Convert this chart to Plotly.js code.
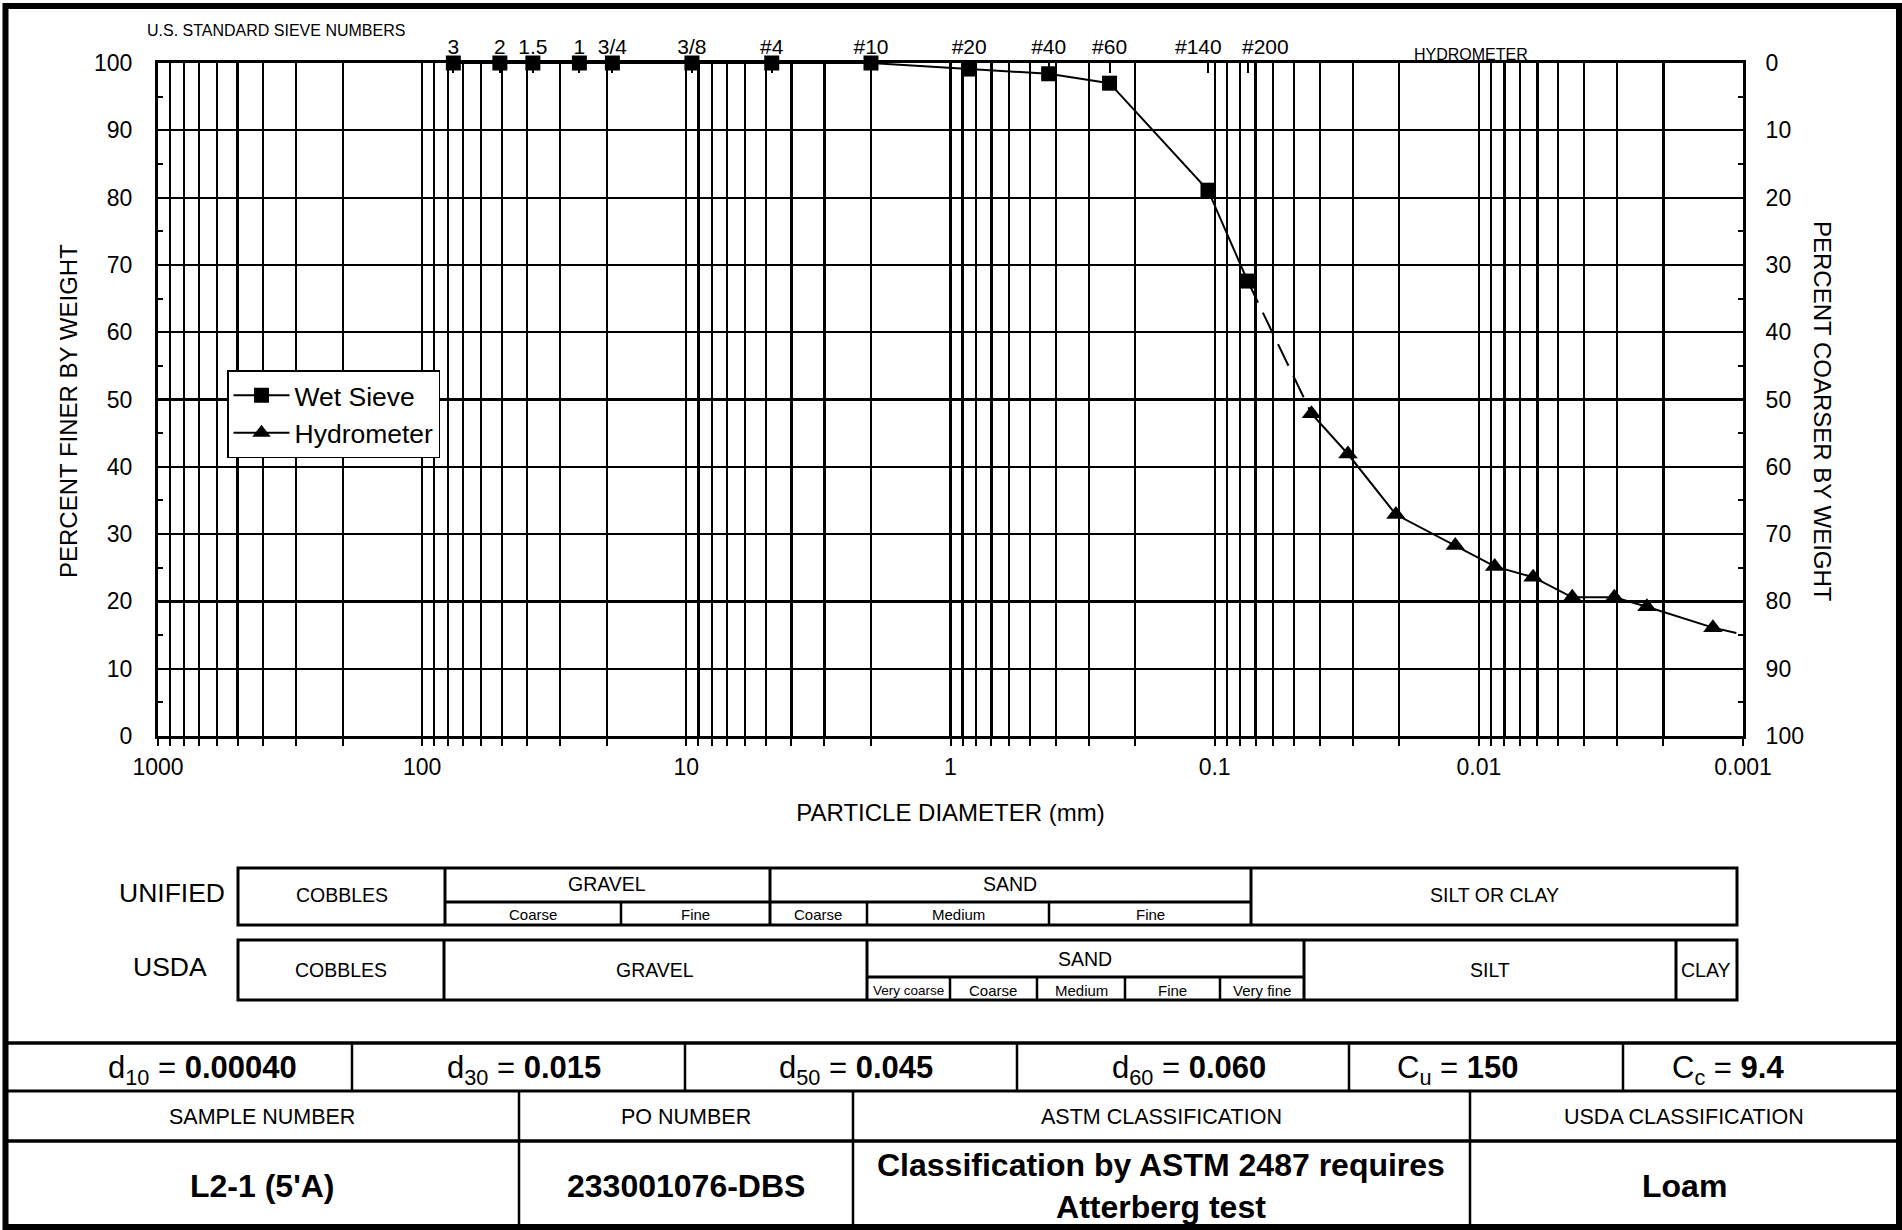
<!DOCTYPE html>
<html><head><meta charset="utf-8">
<script src="https://cdn.plot.ly/plotly-3.0.1.min.js"></script>
<style>html,body{margin:0;padding:0;background:#fff;}#chart{width:1902px;height:1230px;}</style>
</head><body><div id="chart"></div>
<script>
// ---------------- DATA ----------------
const sieveNames = ['3','2','1.5','1','3/4','3/8','#4','#10','#20','#40','#60','#140','#200'];
const sieveSizesMm = [76.2,50.8,38.1,25.4,19.05,9.525,4.75,2.0,0.85,0.425,0.25,0.106,0.075];
const sievePercentFiner = [100,100,100,100,100,100,100,100,99.1,98.4,97.0,81.1,67.6];

const hydrometerDiameterMm = [0.0430,0.0313,0.0206,0.01228,0.00871,0.00623,0.00443,0.00307,0.00231,0.0013];
const hydrometerPercentFiner = [47.9,41.9,32.9,28.3,25.2,23.6,20.6,20.6,19.2,16.1];
const hydrometerExtensionDiameterMm = [0.00106];
const hydrometerExtensionPercentFiner = [15.3];

const xTickValues = [1000,100,10,1,0.1,0.01,0.001];
const xTickLabels = ['1000','100','10','1','0.1','0.01','0.001'];

const coeffLabels = ['d<sub>10</sub> = ','d<sub>30</sub> = ','d<sub>50</sub> = ','d<sub>60</sub> = ','C<sub>u</sub> = ','C<sub>c</sub> = '];
const coeffValues = ['0.00040','0.015','0.045','0.060','150','9.4'];
const infoHeaders = ['SAMPLE NUMBER','PO NUMBER','ASTM CLASSIFICATION','USDA CLASSIFICATION'];
const infoValues = ["L2-1 (5'A)",'233001076-DBS','Classification by ASTM 2487 requires<br>Atterberg test','Loam'];

// ---------------- LAYOUT HELPERS ----------------
const FONT = 'Liberation Sans, Arial, sans-serif';
const L = 158, T = 63, W = 1585, H = 673, B = T + H;
const PX = x => (x - L) / W;
const PY = y => (B - y) / H;

const shapes = [];
function ln(x0, y0, x1, y1, w) {
  shapes.push({type:'line', xref:'paper', yref:'paper', x0:PX(x0), y0:PY(y0), x1:PX(x1), y1:PY(y1),
    line:{color:'black', width:w}});
}
function rect(x0, y0, x1, y1, w) {
  shapes.push({type:'rect', xref:'paper', yref:'paper', x0:PX(x0), y0:PY(y0), x1:PX(x1), y1:PY(y1),
    line:{color:'black', width:w}, fillcolor:'rgba(0,0,0,0)'});
}
const annotations = [];
function txt(text, x, y, size, extra) {
  annotations.push(Object.assign({text:text, xref:'paper', yref:'paper', x:PX(x), y:PY(y),
    xanchor:'center', yanchor:'middle', showarrow:false,
    font:{family:FONT, size:size, color:'black'}}, extra || {}));
}

// crowded sieve labels (#140, #200) are nudged apart, as in the original sheet
const crowdedSieveLabelShift = {'#140': -9.5, '#200': 17.5};
const sieveTickText = sieveNames.map(n => (n in crowdedSieveLabelShift) ? '' : n);
sieveNames.forEach((n, i) => {
  if (n in crowdedSieveLabelShift) {
    annotations.push({text:n, xref:'x2', yref:'paper', x:Math.log10(sieveSizesMm[i]), y:PY(46.5),
      xshift:crowdedSieveLabelShift[n], xanchor:'center', yanchor:'middle', showarrow:false,
      font:{family:FONT, size:21, color:'black'}});
  }
});

// outer frame
rect(5.5, 6, 1899, 1227, 6);

// titles / headers
txt('PERCENT FINER BY WEIGHT', 69, 411, 24, {textangle:-90});
txt('PERCENT COARSER BY WEIGHT', 1822, 411, 24, {textangle:90});
txt('U.S. STANDARD SIEVE NUMBERS', 276, 31, 16);
txt('HYDROMETER', 1471, 54.5, 16);

// UNIFIED classification table
rect(238, 868, 1737, 925, 3);
[445, 770, 1251].forEach(x => ln(x, 868, x, 925, 3));
ln(445, 902, 1251, 902, 3);
[621, 867, 1049].forEach(x => ln(x, 902, x, 925, 2.5));
txt('UNIFIED', 172, 893, 26.5);
txt('COBBLES', 342, 895, 19.5);
txt('GRAVEL', 607, 884, 19.5);
txt('SAND', 1010, 884, 19.5);
txt('SILT OR CLAY', 1494, 895, 19.5);
txt('Coarse', 533, 914, 15);
txt('Fine', 695, 914, 15);
txt('Coarse', 818, 914, 15);
txt('Medium', 958, 914, 15);
txt('Fine', 1150, 914, 15);

// USDA classification table
rect(238, 940, 1737, 1000, 3);
[444, 867, 1304, 1676].forEach(x => ln(x, 940, x, 1000, 3));
ln(867, 977, 1304, 977, 3);
[950, 1037, 1125, 1220].forEach(x => ln(x, 977, x, 1000, 2.5));
txt('USDA', 170, 967, 26.5);
txt('COBBLES', 341, 970, 19.5);
txt('GRAVEL', 655, 970, 19.5);
txt('SAND', 1085, 959, 19.5);
txt('SILT', 1490, 970, 19.5);
txt('CLAY', 1706, 970, 19.5);
txt('Very coarse', 908, 990, 13.5);
txt('Coarse', 993, 990, 15);
txt('Medium', 1081, 990, 15);
txt('Fine', 1172, 990, 15);
txt('Very fine', 1262, 990, 15);

// bottom info tables
ln(5.5, 1043, 1899, 1043, 3.5);
ln(5.5, 1091, 1899, 1091, 3);
ln(5.5, 1141, 1899, 1141, 3.5);
[352, 685, 1017, 1349, 1623].forEach(x => ln(x, 1043, x, 1091, 2.5));
[519, 853, 1470].forEach(x => ln(x, 1091, x, 1227, 2.5));
const coeffCenters = [202, 524, 856, 1189, 1458, 1728];
coeffLabels.forEach((lab, i) => txt(lab + '<b>' + coeffValues[i] + '</b>', coeffCenters[i], 1070, 31));
const infoCenters = [262, 686, 1161, 1684];
infoHeaders.forEach((h, i) => txt(h, infoCenters[i], 1117, 21.5));
infoValues.forEach((v, i) => txt('<b>' + v + '</b>', infoCenters[i], 1186, 32));

// ---------------- TRACES ----------------
const traces = [
  {
    name:'Wet Sieve', type:'scatter', mode:'lines+markers',
    x: sieveSizesMm, y: sievePercentFiner, xaxis:'x2', yaxis:'y',
    line:{color:'black', width:2}, marker:{symbol:'square', size:15, color:'black'},
    cliponaxis:false, hoverinfo:'x+y'
  },
  {
    name:'Hydrometer', type:'scatter', mode:'lines+markers',
    x: hydrometerDiameterMm, y: hydrometerPercentFiner, xaxis:'x', yaxis:'y',
    line:{color:'black', width:2}, marker:{symbol:'triangle-up', size:17, color:'black'},
    cliponaxis:false, hoverinfo:'x+y'
  },
  {
    name:'sieve-hydrometer link', type:'scatter', mode:'lines', showlegend:false,
    x: [sieveSizesMm[sieveSizesMm.length-1], hydrometerDiameterMm[0]],
    y: [sievePercentFiner[sievePercentFiner.length-1], hydrometerPercentFiner[0]],
    xaxis:'x', yaxis:'y', line:{color:'black', width:2, dash:'24px,11px'}, hoverinfo:'skip'
  },
  {
    name:'hydrometer extension', type:'scatter', mode:'lines', showlegend:false,
    x: [hydrometerDiameterMm[hydrometerDiameterMm.length-1]].concat(hydrometerExtensionDiameterMm),
    y: [hydrometerPercentFiner[hydrometerPercentFiner.length-1]].concat(hydrometerExtensionPercentFiner),
    xaxis:'x', yaxis:'y', line:{color:'black', width:2}, hoverinfo:'skip'
  },
  {
    name:'coarser axis', type:'scatter', mode:'markers', showlegend:false,
    x:[null], y:[null], xaxis:'x', yaxis:'y2', hoverinfo:'skip'
  }
];

const tickFont = {family:FONT, size:23, color:'black'};
const layout = {
  width:1902, height:1230,
  margin:{l:L, r:1902 - L - W, t:T, b:1230 - B},
  paper_bgcolor:'white', plot_bgcolor:'white',
  font:{family:FONT, color:'black'},
  showlegend:true,
  legend:{x:PX(227), y:PY(370), xanchor:'left', yanchor:'top', bgcolor:'white',
    bordercolor:'black', borderwidth:1.5, font:{family:FONT, size:26.5, color:'black'},
    itemwidth:56, tracegroupgap:0},
  xaxis:{
    type:'log', range:[3,-3], autorange:false,
    tickmode:'array', tickvals:xTickValues, ticktext:xTickLabels,
    ticks:'outside', ticklen:7, tickwidth:2, tickcolor:'black',
    showgrid:true, gridcolor:'black', gridwidth:2.2,
    minor:{dtick:'D1', ticks:'outside', ticklen:7, tickwidth:2, tickcolor:'black',
      showgrid:true, gridcolor:'black', gridwidth:2.2},
    showline:true, linecolor:'black', linewidth:3, zeroline:false,
    tickfont:tickFont, ticklabelstandoff:1,
    title:{text:'PARTICLE DIAMETER (mm)', font:{family:FONT, size:24, color:'black'}, standoff:26}
  },
  xaxis2:{
    type:'log', range:[3,-3], autorange:false, overlaying:'x', side:'top', anchor:'y',
    tickmode:'array', tickvals:sieveSizesMm, ticktext:sieveTickText, tickangle:0,
    ticks:'inside', ticklen:10, tickwidth:2, tickcolor:'black',
    showgrid:false, showline:true, linecolor:'black', linewidth:3, zeroline:false,
    tickfont:{family:FONT, size:21, color:'black'}, ticklabelstandoff:-2
  },
  yaxis:{
    range:[0,100], autorange:false, tickmode:'linear', tick0:0, dtick:10,
    ticks:'', showgrid:true, gridcolor:'black', gridwidth:2.2,
    minor:{dtick:5, ticks:'inside', ticklen:5, tickwidth:2, tickcolor:'black', showgrid:false},
    showline:true, linecolor:'black', linewidth:3, zeroline:false,
    tickfont:tickFont, ticklabelstandoff:18
  },
  yaxis2:{
    range:[100,0], autorange:false, overlaying:'y', side:'right', anchor:'x',
    tickmode:'linear', tick0:0, dtick:10, ticks:'', showgrid:false,
    minor:{dtick:5, ticks:'inside', ticklen:5, tickwidth:2, tickcolor:'black', showgrid:false},
    showline:true, linecolor:'black', linewidth:3, zeroline:false,
    tickfont:tickFont, ticklabelstandoff:15
  },
  shapes:shapes,
  annotations:annotations
};

Plotly.newPlot('chart', traces, layout, {staticPlot:true, displayModeBar:false});
</script>
</body></html>
